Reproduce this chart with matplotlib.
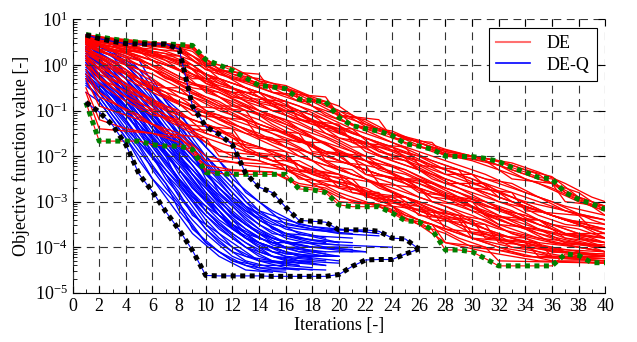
import numpy as np
import matplotlib
matplotlib.use('Agg')
import matplotlib.pyplot as plt
from matplotlib.lines import Line2D
from matplotlib.ticker import MultipleLocator, FixedLocator, NullFormatter

plt.rcParams['font.family'] = ['Liberation Serif', 'DejaVu Serif']
plt.rcParams['mathtext.fontset'] = 'stix'

# best-so-far objective per run, vertices as (iteration, log10 value)
de_runs = [
    [(1, .6), (3, .5), (6, .3), (8, .2), (10, -.2), (13, -.5), (15, -.9), (18, -1.2), (21, -1.6), (24, -1.9), (27, -2.3), (30, -2.6), (33, -2.9), (36, -3.3), (40, -3.6)],
    [(1, .55), (4, .2), (7, -.1), (9, -.4), (12, -.6), (14, -1.0), (17, -1.3), (20, -1.7), (22, -2.0), (25, -2.3), (28, -2.7), (31, -3.0), (34, -3.4), (37, -3.7), (40, -3.9)],
    [(1, .62), (5, .45), (8, .4), (10, 0), (12, -.3), (15, -.5), (17, -.8), (19, -.8), (21, -1.3), (24, -1.5), (27, -1.9), (30, -2.1), (33, -2.4), (35, -2.6), (38, -3.0), (40, -3.2)],
    [(1, .4), (3, 0), (5, -.4), (8, -.8), (11, -1.2), (13, -1.5), (16, -1.9), (19, -2.2), (22, -2.5), (25, -2.9), (28, -3.3), (31, -3.6), (34, -3.9), (37, -4.1), (40, -4.2)],
    [(1, .5), (2, .3), (5, .1), (7, -.3), (10, -.5), (12, -.9), (14, -1.1), (17, -1.5), (20, -1.8), (23, -2.1), (26, -2.5), (29, -2.8), (32, -3.2), (35, -3.5), (38, -3.8), (40, -4.0)],
    [(1, .3), (4, -.3), (6, -.6), (9, -1.0), (11, -1.1), (14, -1.6), (16, -1.7), (19, -2.1), (21, -2.4), (24, -2.7), (27, -3.0), (30, -3.3), (33, -3.7), (36, -3.9), (40, -4.1)],
    [(1, .65), (6, .5), (9, .4), (11, -.1), (14, -.4), (16, -.5), (18, -.9), (20, -1.2), (23, -1.5), (26, -1.8), (29, -2.0), (32, -2.2), (34, -2.5), (36, -2.7), (39, -3.1), (40, -3.2)],
    [(1, .2), (2, -.2), (5, -.6), (7, -1.0), (10, -1.3), (12, -1.6), (15, -1.9), (17, -2.2), (20, -2.6), (23, -2.9), (25, -3.3), (28, -3.6), (31, -3.9), (34, -4.2), (40, -4.3)],
    [(1, .58), (3, .35), (6, .1), (9, -.2), (11, -.5), (13, -.8), (16, -1.1), (18, -1.4), (21, -1.7), (24, -2.1), (26, -2.3), (29, -2.6), (32, -2.9), (35, -3.2), (38, -3.5), (40, -3.7)],
    [(1, 0), (3, -.5), (5, -.9), (8, -1.3), (10, -1.6), (13, -1.9), (16, -2.2), (18, -2.5), (21, -2.8), (24, -3.0), (27, -3.4), (30, -3.8), (33, -4.0), (37, -4.2), (40, -4.25)],
    [(1, .45), (4, .3), (7, 0), (10, -.3), (12, -.7), (15, -.9), (18, -1.3), (20, -1.4), (22, -1.9), (25, -2.2), (28, -2.5), (31, -2.8), (34, -3.1), (37, -3.4), (40, -3.6)],
    [(1, .6), (4, .4), (8, .3), (10, -.1), (13, -.4), (16, -.7), (19, -1.0), (22, -1.3), (25, -1.6), (28, -1.9), (30, -2.0), (33, -2.3), (36, -2.6), (38, -2.9), (40, -3.3)],
    [(1, .35), (3, .1), (6, -.2), (8, -.5), (11, -.9), (13, -1.2), (15, -1.4), (18, -1.8), (20, -2.1), (23, -2.4), (26, -2.6), (29, -3.0), (32, -3.3), (35, -3.7), (38, -3.9), (40, -4.0)],
    [(1, .5), (5, .3), (8, -.1), (10, -.6), (12, -.8), (15, -1.2), (17, -1.4), (20, -1.9), (22, -2.2), (25, -2.4), (28, -2.8), (31, -3.1), (34, -3.3), (37, -3.6), (40, -3.9)],
    [(1, -.3), (2, -.9), (5, -1.2), (8, -1.5), (10, -2.0), (13, -2.2), (16, -2.3), (18, -2.6), (20, -2.9), (23, -3.1), (26, -3.5), (28, -3.9), (31, -4.1), (35, -4.3), (40, -4.35)],
    [(1, .64), (7, .45), (9, .3), (11, -.2), (13, -.35), (15, -.6), (17, -.7), (19, -1.1), (21, -1.3), (24, -1.7), (27, -2.1), (30, -2.4), (33, -2.7), (36, -3.0), (39, -3.4), (40, -3.5)],
    [(1, .25), (3, -.1), (6, -.4), (9, -.7), (11, -1.0), (14, -1.3), (17, -1.6), (19, -2.0), (22, -2.3), (25, -2.6), (27, -2.9), (30, -3.2), (32, -3.5), (35, -3.8), (38, -4.0), (40, -4.1)],
    [(1, .55), (3, .45), (6, .25), (9, 0), (11, -.4), (14, -.7), (16, -1.0), (19, -1.3), (21, -1.5), (24, -1.8), (27, -2.2), (29, -2.4), (32, -2.7), (35, -3.0), (38, -3.3), (40, -3.4)],
    [(1, .1), (2, -.3), (4, -.7), (7, -1.1), (9, -1.4), (12, -1.7), (14, -2.0), (17, -2.3), (19, -2.5), (22, -2.7), (25, -3.1), (27, -3.3), (30, -3.6), (33, -3.8), (36, -4.0), (40, -4.2)],
    [(1, .48), (4, .25), (6, 0), (8, -.3), (11, -.6), (14, -1.0), (16, -1.3), (18, -1.6), (21, -2.0), (23, -2.2), (26, -2.7), (29, -3.0), (32, -3.4), (34, -3.6), (37, -3.9), (40, -4.0)],
    [(1, .6), (5, .48), (8, .35), (10, .05), (12, -.2), (14, -.3), (17, -.6), (20, -1.0), (22, -1.35), (24, -1.45), (26, -1.7), (28, -1.95), (31, -2.05), (33, -2.2), (35, -2.4), (37, -2.8), (40, -3.1)],
    [(1, .4), (3, .2), (5, -.2), (7, -.5), (10, -.8), (12, -1.1), (15, -1.5), (17, -1.8), (20, -2.3), (22, -2.5), (24, -2.8), (27, -3.1), (30, -3.5), (33, -3.8), (36, -4.1), (40, -4.2)],
    [(1, .3), (2, .1), (4, -.2), (7, -.7), (9, -.9), (12, -1.3), (14, -1.5), (16, -1.8), (19, -2.0), (21, -2.2), (24, -2.5), (27, -2.8), (30, -3.0), (32, -3.3), (35, -3.6), (38, -3.8), (40, -3.9)],
    [(1, .52), (4, .35), (7, .15), (9, -.1), (12, -.4), (14, -.6), (17, -1.0), (19, -1.2), (22, -1.6), (25, -2.0), (27, -2.2), (30, -2.5), (33, -2.9), (36, -3.3), (40, -3.7)],
    [(1, .58), (2, .5), (5, .35), (8, .1), (10, -.3), (13, -.6), (15, -.8), (18, -1.1), (20, -1.5), (23, -1.8), (26, -2.0), (28, -2.3), (31, -2.7), (34, -3.0), (37, -3.2), (40, -3.4)],
    [(1, .15), (3, -.3), (6, -.8), (8, -1.1), (11, -1.4), (13, -1.7), (16, -2.0), (18, -2.4), (21, -2.7), (24, -3.1), (26, -3.4), (29, -3.7), (32, -4.0), (36, -4.2), (40, -4.3)],
    [(1, .62), (3, .5), (7, .38), (9, .2), (11, -.3), (13, -.5), (16, -.8), (18, -1.0), (21, -1.4), (23, -1.6), (26, -1.9), (29, -2.2), (31, -2.4), (34, -2.8), (37, -3.1), (40, -3.3)],
    [(1, .45), (3, .2), (6, -.1), (9, -.6), (11, -.8), (14, -1.3), (16, -1.5), (19, -1.9), (22, -2.1), (25, -2.5), (27, -2.7), (30, -3.1), (33, -3.5), (36, -3.7), (40, -3.8)],
    [(1, .5), (3, .4), (5, .4), (7, .1), (9, -.3), (11, -.3), (13, -.7), (15, -1.0), (17, -1.0), (19, -1.5), (21, -1.8), (24, -1.8), (26, -2.3), (28, -2.6), (31, -2.6), (33, -3.0), (35, -3.3), (37, -3.5), (40, -3.6)],
    [(1, .6), (4, .5), (6, .2), (8, .2), (10, -.4), (12, -.6), (14, -.6), (16, -1.1), (19, -1.4), (21, -1.4), (23, -1.9), (26, -2.1), (28, -2.4), (30, -2.4), (32, -2.9), (35, -3.2), (38, -3.5), (40, -3.8)],
    [(1, .3), (2, .2), (4, -.1), (6, -.5), (8, -.5), (10, -1.0), (12, -1.2), (14, -1.4), (17, -1.7), (19, -1.7), (21, -2.2), (24, -2.5), (26, -2.5), (28, -2.9), (30, -3.2), (33, -3.4), (35, -3.4), (37, -3.8), (40, -4.0)],
    [(1, .65), (3, .55), (7, .42), (9, .38), (10, 0), (12, -.25), (14, -.4), (16, -.5), (18, -.8), (20, -1.1), (22, -1.2), (24, -1.5), (26, -1.7), (28, -1.9), (30, -2.0), (32, -2.1), (34, -2.3), (36, -2.45), (38, -2.9), (40, -3.1)],
    [(1, .4), (3, .3), (5, 0), (7, -.2), (9, -.6), (11, -.9), (13, -.9), (15, -1.3), (17, -1.6), (19, -1.9), (22, -2.0), (24, -2.4), (26, -2.8), (29, -2.9), (31, -3.3), (34, -3.6), (36, -3.9), (40, -4.0)],
    [(1, .55), (3, .3), (5, .3), (7, -.1), (9, -.4), (11, -.7), (13, -1.0), (16, -1.2), (18, -1.6), (20, -1.9), (22, -2.1), (25, -2.3), (27, -2.6), (29, -2.8), (31, -3.1), (34, -3.3), (36, -3.5), (38, -3.6), (40, -3.8)],
    [(1, .1), (3, -.2), (5, -.6), (7, -.9), (9, -1.2), (11, -1.4), (13, -1.8), (15, -2.1), (17, -2.1), (19, -2.4), (21, -2.6), (23, -2.9), (25, -2.9), (27, -3.2), (29, -3.5), (31, -3.7), (34, -4.0), (37, -4.1), (40, -4.2)],
    [(1, .62), (4, .48), (8, .4), (9, .35), (11, -.1), (13, -.2), (15, -.5), (17, -.6), (19, -.9), (21, -1.1), (23, -1.4), (25, -1.6), (27, -1.8), (30, -2.0), (32, -2.2), (34, -2.4), (36, -2.6), (38, -2.8), (40, -3.2)],
    [(1, .45), (2, .3), (4, .1), (6, -.1), (8, -.4), (10, -.7), (12, -1.0), (14, -1.2), (16, -1.5), (18, -1.8), (20, -2.0), (22, -2.4), (24, -2.6), (26, -2.9), (28, -3.1), (30, -3.4), (32, -3.6), (35, -3.8), (38, -3.9), (40, -4.1)],
    [(1, .58), (3, .45), (5, .35), (7, .25), (9, 0), (11, -.5), (13, -.7), (15, -1.0), (17, -1.2), (19, -1.3), (21, -1.6), (23, -1.9), (25, -2.1), (27, -2.4), (29, -2.7), (31, -2.9), (33, -3.1), (35, -3.4), (38, -3.7), (40, -3.8)],
    [(1, -.5), (2, -1.2), (4, -1.4), (6, -1.5), (8, -1.7), (10, -2.2), (12, -2.3), (15, -2.35), (17, -2.6), (19, -2.7), (21, -3.0), (23, -3.05), (25, -3.3), (27, -3.5), (29, -3.8), (31, -4.0), (34, -4.2), (40, -4.3)],
    [(1, .35), (3, .1), (5, -.3), (7, -.6), (9, -.8), (11, -1.2), (13, -1.4), (15, -1.7), (17, -1.9), (19, -2.3), (21, -2.5), (23, -2.6), (25, -3.0), (27, -3.2), (29, -3.3), (31, -3.6), (33, -3.9), (36, -4.1), (40, -4.15)],
    [(1, .55), (4, .42), (6, .3), (8, .05), (10, -.2), (12, -.5), (14, -.8), (16, -.9), (18, -1.2), (20, -1.6), (22, -1.7), (24, -2.0), (26, -2.2), (28, -2.5), (30, -2.7), (32, -3.0), (35, -3.2), (37, -3.4), (40, -3.5)],
    [(1, .2), (2, 0), (4, -.4), (6, -.8), (8, -1.0), (10, -1.5), (12, -1.7), (14, -1.8), (16, -2.1), (18, -2.3), (20, -2.4), (22, -2.8), (24, -3.0), (26, -3.2), (28, -3.4), (30, -3.7), (33, -3.9), (36, -4.2), (40, -4.25)],
    [(1, .66), (5, .5), (9, .43), (10, .05), (12, -.05), (14, -.35), (16, -.45), (18, -.7), (20, -.9), (22, -1.3), (24, -1.5), (26, -1.65), (28, -1.85), (30, -2.0), (33, -2.15), (35, -2.35), (37, -2.6), (39, -2.9), (40, -3.0)],
    [(1, .48), (3, .35), (5, .15), (7, -.2), (9, -.5), (11, -.6), (13, -.9), (15, -1.1), (17, -1.4), (19, -1.6), (21, -1.9), (23, -2.3), (25, -2.5), (27, -2.6), (29, -2.9), (31, -3.0), (33, -3.3), (35, -3.6), (37, -3.8), (40, -3.9)],
    [(1, .3), (3, 0), (5, -.3), (7, -.7), (9, -1.0), (11, -1.3), (13, -1.5), (15, -1.6), (17, -2.0), (19, -2.2), (21, -2.3), (23, -2.7), (25, -2.9), (27, -3.1), (29, -3.3), (31, -3.4), (33, -3.7), (35, -3.9), (38, -4.0), (40, -4.1)],
    [(1, .6), (3, .5), (5, .45), (7, .3), (9, .1), (11, -.15), (13, -.5), (15, -.7), (17, -.9), (19, -1.2), (21, -1.5), (23, -1.7), (25, -1.9), (27, -2.1), (29, -2.3), (31, -2.5), (33, -2.6), (35, -2.9), (37, -3.2), (40, -3.4)],
    [(1, 0), (2, -.4), (4, -.8), (6, -1.1), (8, -1.2), (10, -1.7), (12, -2.0), (14, -2.1), (16, -2.3), (18, -2.5), (20, -2.8), (22, -3.0), (24, -3.2), (26, -3.5), (28, -3.7), (30, -4.0), (33, -4.1), (36, -4.3), (40, -4.3)],
    [(1, .52), (3, .4), (5, .2), (7, 0), (9, -.25), (11, -.45), (13, -.6), (15, -.8), (17, -1.1), (19, -1.4), (21, -1.6), (23, -2.0), (25, -2.1), (27, -2.5), (29, -2.7), (31, -3.0), (33, -3.2), (35, -3.5), (37, -3.7), (40, -3.7)],
    [(1, -.1), (2, -.6), (4, -1.0), (6, -1.3), (8, -1.6), (10, -2.1), (16, -2.2), (17, -2.5), (21, -2.6), (22, -2.9), (25, -3.0), (26, -3.3), (29, -3.4), (30, -3.8), (34, -3.9), (35, -4.2), (40, -4.25)],
    [(1, .2), (3, -.4), (5, -.8), (7, -1.2), (9, -1.5), (11, -1.9), (15, -2.0), (16, -2.3), (19, -2.4), (20, -2.7), (23, -2.8), (24, -3.1), (27, -3.2), (28, -3.6), (31, -3.7), (33, -4.0), (40, -4.1)],
    [(1, .4), (2, .1), (4, -.5), (6, -.9), (8, -1.3), (12, -1.4), (13, -1.8), (16, -1.9), (17, -2.3), (20, -2.4), (21, -2.8), (24, -2.9), (26, -3.2), (29, -3.3), (30, -3.7), (34, -3.8), (36, -4.1), (40, -4.15)],
    [(1, -.2), (2, -.7), (5, -1.1), (7, -1.5), (10, -1.6), (11, -2.0), (14, -2.1), (16, -2.3), (18, -2.6), (21, -2.7), (23, -3.0), (26, -3.1), (27, -3.4), (31, -3.5), (32, -3.9), (36, -4.0), (38, -4.2), (40, -4.2)],
    [(1, .5), (3, .2), (5, -.1), (7, -.5), (9, -.9), (13, -1.0), (14, -1.4), (17, -1.5), (18, -1.9), (21, -2.0), (22, -2.4), (25, -2.5), (27, -2.9), (30, -3.0), (31, -3.3), (35, -3.4), (37, -3.7), (40, -3.8)],
    [(1, .6), (4, .5), (7, .4), (8, .35), (10, -.1), (14, -.2), (15, -.6), (19, -.7), (20, -1.1), (23, -1.2), (24, -1.6), (27, -1.7), (28, -2.0), (31, -2.1), (33, -2.5), (36, -2.6), (37, -3.0), (40, -3.1)],
    [(1, .3), (3, 0), (5, -.4), (7, -.6), (9, -1.1), (13, -1.2), (14, -1.6), (18, -1.7), (19, -2.1), (22, -2.2), (23, -2.6), (26, -2.7), (27, -3.0), (30, -3.1), (32, -3.5), (35, -3.6), (37, -3.9), (40, -3.95)],
    [(1, .55), (3, .4), (6, .2), (8, 0), (10, -.4), (12, -.7), (16, -.8), (17, -1.2), (20, -1.3), (21, -1.7), (25, -1.8), (26, -2.2), (29, -2.3), (30, -2.7), (33, -2.8), (34, -3.2), (38, -3.3), (39, -3.6), (40, -3.6)],
    [(1, -.6), (2, -1.4), (6, -1.5), (8, -1.6), (9, -1.8), (10, -2.3), (15, -2.35), (17, -2.65), (19, -2.75), (20, -3.0), (24, -3.1), (25, -3.38), (27, -3.5), (28, -3.9), (31, -4.0), (32, -4.3), (40, -4.35)],
    [(1, .1), (2, -.3), (5, -.7), (7, -1.0), (9, -1.4), (12, -1.5), (13, -1.9), (16, -2.0), (18, -2.4), (21, -2.5), (22, -2.8), (25, -2.9), (27, -3.3), (30, -3.4), (31, -3.8), (35, -3.9), (36, -4.2), (40, -4.2)],
]

deq_runs = [
    [(1, .5), (2, .2), (4, -.3), (5, -.8), (7, -1.5), (9, -2.4), (11, -3.0), (13, -3.5), (15, -3.9), (17, -4.1), (19, -4.2)],
    [(1, .2), (3, -.4), (5, -1.2), (7, -2.0), (8, -2.6), (10, -3.3), (12, -3.8), (14, -4.2), (16, -4.4), (18, -4.45)],
    [(1, -.2), (2, -.6), (4, -1.3), (6, -2.2), (8, -3.0), (9, -3.6), (11, -4.1), (13, -4.4), (15, -4.5), (16, -4.5)],
    [(1, .6), (3, .45), (5, .1), (6, -.4), (8, -1.2), (10, -2.0), (12, -2.6), (13, -3.0), (15, -3.4), (17, -3.7), (20, -3.9)],
    [(1, .3), (2, 0), (4, -.6), (6, -1.3), (7, -1.8), (9, -2.5), (11, -3.2), (12, -3.6), (14, -3.9), (16, -4.1), (18, -4.2)],
    [(1, .45), (3, .1), (5, -.5), (7, -1.2), (9, -1.9), (10, -2.5), (12, -3.1), (14, -3.6), (16, -3.9), (18, -4.0), (21, -4.1)],
    [(1, 0), (2, -.4), (4, -1.0), (5, -1.5), (7, -2.3), (9, -3.0), (10, -3.4), (12, -4.0), (14, -4.3), (17, -4.4)],
    [(1, .1), (3, -.3), (4, -.8), (6, -1.6), (8, -2.2), (10, -2.9), (11, -3.3), (13, -3.8), (15, -4.0), (17, -4.2), (20, -4.3)],
    [(1, -.4), (2, -.7), (4, -1.5), (5, -1.9), (7, -2.6), (8, -3.2), (10, -3.9), (12, -4.3), (14, -4.4), (16, -4.4)],
    [(1, .35), (2, .1), (3, -.2), (5, -.9), (6, -1.1), (8, -1.7), (10, -2.3), (11, -2.8), (13, -3.3), (15, -3.7), (17, -3.8), (19, -3.9)],
    [(1, .15), (2, -.2), (4, -.9), (5, -1.4), (6, -1.7), (8, -2.5), (9, -2.9), (11, -3.5), (13, -3.9), (14, -4.1), (16, -4.3), (18, -4.3)],
    [(1, -.1), (3, -.7), (4, -1.1), (6, -1.8), (7, -2.2), (9, -2.9), (10, -3.1), (12, -3.5), (14, -3.8), (16, -4.0), (19, -4.1)],
    [(1, .5), (2, .35), (4, 0), (5, -.3), (7, -.9), (8, -1.4), (10, -2.2), (12, -2.9), (14, -3.3), (15, -3.6), (17, -3.8), (20, -3.9)],
    [(1, .25), (3, -.2), (4, -.5), (6, -1.2), (8, -1.9), (9, -2.2), (11, -2.9), (12, -3.2), (14, -3.7), (16, -3.9), (18, -4.0), (21, -4.05)],
    [(1, -.3), (2, -.5), (3, -.9), (5, -1.6), (7, -2.4), (8, -2.7), (10, -3.5), (11, -3.8), (13, -4.2), (15, -4.3), (17, -4.35)],
    [(1, .4), (2, .2), (4, -.2), (6, -.9), (7, -1.3), (9, -2.0), (11, -2.7), (12, -3.0), (14, -3.5), (16, -3.8), (19, -4.0), (22, -4.1)],
    [(1, .05), (3, -.5), (5, -1.1), (6, -1.5), (8, -2.1), (10, -2.7), (12, -3.4), (13, -3.7), (15, -4.1), (17, -4.3), (19, -4.4)],
    [(1, .6), (2, .4), (4, .2), (5, -.1), (6, -.5), (8, -1.0), (9, -1.5), (11, -2.1), (12, -2.5), (14, -3.0), (16, -3.5), (18, -3.6), (20, -3.7), (23, -3.75)],
    [(1, -.2), (3, -.8), (5, -1.4), (6, -2.0), (8, -2.8), (9, -3.3), (11, -3.7), (12, -3.9), (14, -4.3), (16, -4.45), (18, -4.5)],
    [(1, .3), (2, -.1), (3, -.4), (5, -1.0), (7, -1.6), (8, -2.0), (10, -2.6), (12, -3.1), (13, -3.4), (15, -3.8), (18, -4.1), (20, -4.2)],
    [(1, .2), (3, -.1), (4, -.6), (6, -1.4), (7, -1.9), (9, -2.7), (10, -3.0), (12, -3.6), (14, -4.0), (15, -4.2), (17, -4.3), (20, -4.35)],
    [(1, -.05), (2, -.3), (4, -1.0), (5, -1.3), (7, -2.0), (9, -2.6), (11, -3.3), (13, -3.8), (14, -4.0), (16, -4.2), (18, -4.25)],
    [(1, .45), (3, .2), (5, -.2), (6, -.7), (8, -1.6), (10, -2.4), (11, -2.7), (13, -3.2), (15, -3.5), (17, -3.6), (21, -3.7)],
    [(1, -.6), (2, -.8), (4, -1.6), (5, -2.1), (7, -2.9), (8, -3.3), (9, -3.7), (11, -4.2), (13, -4.5), (15, -4.55)],
    [(1, .1), (2, -.1), (4, -.4), (5, -.7), (7, -1.4), (9, -2.1), (10, -2.4), (12, -3.0), (14, -3.4), (16, -3.7), (18, -3.85), (21, -3.9)],
    [(1, .35), (3, 0), (5, -.6), (7, -1.5), (8, -1.8), (10, -2.6), (12, -3.3), (14, -3.7), (16, -4.0), (19, -4.15)],
    [(1, -.3), (2, -.6), (3, -1.0), (4, -1.4), (6, -2.0), (8, -2.6), (9, -3.0), (11, -3.6), (13, -4.0), (15, -4.3), (17, -4.4)],
    [(1, .4), (2, .1), (3, -.3), (5, -1.0), (6, -1.4), (7, -1.7), (9, -2.4), (10, -2.8), (12, -3.4), (14, -3.8), (16, -4.0), (20, -4.0)],
    [(1, -.1), (2, -.4), (3, -.8), (4, -1.2), (6, -2.0), (7, -2.5), (9, -3.2), (10, -3.6), (12, -4.1), (14, -4.3), (18, -4.35)],
    [(1, .2), (2, -.1), (4, -.7), (5, -1.1), (6, -1.3), (8, -2.0), (10, -2.8), (11, -3.1), (13, -3.6), (15, -3.95), (17, -4.1), (22, -4.1)],
    [(1, .55), (3, .3), (4, 0), (6, -.6), (7, -1.0), (9, -1.7), (10, -2.1), (12, -2.8), (13, -3.1), (15, -3.4), (18, -3.6), (20, -3.65)],
    [(1, -.45), (2, -.7), (3, -1.1), (5, -1.8), (6, -2.3), (7, -2.7), (9, -3.4), (10, -3.7), (12, -4.2), (14, -4.45), (19, -4.5)],
    [(1, .3), (2, .1), (3, -.1), (5, -.8), (7, -1.6), (8, -2.0), (9, -2.3), (11, -3.0), (13, -3.5), (15, -3.8), (18, -4.0)],
    [(1, 0), (3, -.6), (4, -.9), (5, -1.2), (7, -1.9), (8, -2.4), (10, -3.2), (11, -3.5), (13, -4.0), (15, -4.2), (19, -4.3)],
    [(1, .45), (2, .25), (4, -.1), (5, -.4), (7, -1.1), (8, -1.5), (10, -2.0), (11, -2.4), (13, -3.0), (14, -3.3), (16, -3.6), (19, -3.8)],
    [(1, -.25), (2, -.55), (4, -1.2), (5, -1.7), (7, -2.4), (8, -2.9), (10, -3.6), (11, -3.9), (13, -4.3), (15, -4.45), (17, -4.5)],
    [(1, .15), (2, -.1), (4, -.6), (6, -1.2), (7, -1.5), (9, -2.2), (10, -2.6), (12, -3.3), (14, -3.7), (16, -3.9), (18, -4.0), (21, -4.0)],
    [(1, .5), (2, .4), (4, .1), (6, -.3), (7, -.8), (9, -1.4), (10, -1.8), (12, -2.4), (13, -2.8), (15, -3.2), (17, -3.5), (19, -3.6), (22, -3.65)],
    [(1, -.15), (3, -.6), (5, -1.3), (6, -1.8), (8, -2.5), (9, -2.8), (11, -3.4), (13, -3.8), (15, -4.0), (17, -4.2), (20, -4.2)],
    [(1, .35), (2, .15), (4, -.5), (5, -.9), (7, -1.7), (8, -2.1), (10, -2.9), (12, -3.5), (13, -3.8), (15, -4.1), (18, -4.2)],
    [(1, .05), (2, -.25), (3, -.6), (5, -1.3), (6, -1.6), (8, -2.3), (9, -2.7), (11, -3.2), (12, -3.5), (14, -3.9), (16, -4.15), (20, -4.2)],
    [(1, .25), (3, -.1), (4, -.3), (6, -1.0), (8, -1.8), (9, -2.1), (11, -2.6), (12, -2.9), (14, -3.4), (16, -3.7), (18, -3.75), (21, -3.8)],
    [(1, -.35), (2, -.8), (3, -1.2), (5, -2.0), (6, -2.5), (8, -3.1), (9, -3.5), (10, -3.9), (12, -4.3), (14, -4.5), (16, -4.55)],
    [(1, .6), (2, .45), (3, .3), (5, -.2), (6, -.6), (8, -1.3), (9, -1.7), (11, -2.3), (12, -2.6), (14, -3.2), (16, -3.4), (18, -3.55), (20, -3.6), (23, -3.7)],
    [(1, .1), (2, -.2), (4, -.8), (5, -1.1), (6, -1.6), (8, -2.3), (10, -3.0), (11, -3.3), (13, -3.7), (15, -3.9), (17, -3.9), (20, -3.95)],
    [(1, -.2), (2, -.45), (4, -.9), (5, -1.4), (7, -2.1), (8, -2.5), (10, -3.2), (12, -3.7), (13, -3.9), (15, -4.2), (17, -4.35), (19, -4.4)],
    [(1, .4), (3, .2), (4, -.2), (6, -.8), (7, -1.2), (9, -1.8), (11, -2.5), (13, -3.1), (14, -3.4), (16, -3.75), (18, -3.9), (20, -3.95), (24, -4.0)],
]

# worst / best run at each iteration (log10)
de_upper = [0.67, 0.62, 0.57, 0.53, 0.50, 0.48, 0.46, 0.45, 0.43, 0.12,
            0.00, -0.12, -0.28, -0.45, -0.48, -0.52, -0.75, -0.78, -0.80, -1.15,
            -1.33, -1.40, -1.45, -1.55, -1.73, -1.78, -1.85, -2.00, -2.01, -2.01,
            -2.05, -2.12, -2.25, -2.35, -2.47, -2.50, -2.80, -2.95, -3.05, -3.17]
de_lower = [-0.82, -1.67, -1.67, -1.67, -1.67, -1.75, -1.78, -1.78, -1.85, -2.36,
            -2.38, -2.40, -2.40, -2.40, -2.40, -2.40, -2.72, -2.74, -2.80, -3.07,
            -3.11, -3.11, -3.11, -3.25, -3.42, -3.44, -3.62, -4.06, -4.06, -4.10,
            -4.25, -4.41, -4.41, -4.41, -4.41, -4.41, -4.15, -4.18, -4.34, -4.34]
deq_upper = [0.66, 0.58, 0.52, 0.47, 0.46, 0.46, 0.46, 0.35, -0.90, -1.35,
             -1.52, -1.75, -2.38, -2.68, -2.80, -3.12, -3.41, -3.43, -3.45, -3.62,
             -3.62, -3.62, -3.65, -3.80, -3.82, -4.04]
deq_lower = [-0.82, -1.03, -1.32, -1.75, -2.40, -2.78, -3.22, -3.62, -4.07, -4.62,
             -4.63, -4.63, -4.63, -4.63, -4.64, -4.64, -4.64, -4.64, -4.64, -4.60,
             -4.42, -4.28, -4.27, -4.27, -4.15, -4.04]

y_ticks = [1e-5, 1e-4, 1e-3, 1e-2, 1e-1, 1e0, 1e1]

fig, ax = plt.subplots(figsize=(6.37, 3.42), dpi=100)
fig.subplots_adjust(left=0.114, right=0.950, bottom=0.144, top=0.943)

# DE-Q first, DE drawn over it
for run in deq_runs:
    xs, ys = zip(*run)
    ax.plot(xs, 10 ** np.array(ys), color='b', lw=0.95)
for run in de_runs:
    xs, ys = zip(*run)
    ax.plot(xs, 10 ** np.array(ys), color='r', lw=0.95)

dots = (0, (1.0, 0.9))
it_de = np.arange(1, len(de_upper) + 1)
it_deq = np.arange(1, len(deq_upper) + 1)
for env in (de_upper, de_lower):
    ax.plot(it_de, 10 ** np.array(env), color='r', lw=0.8, zorder=3)
    ax.plot(it_de, 10 ** np.array(env), color='#008000', lw=3.6, ls=dots,
            dash_capstyle='butt', zorder=3.1)
for env in (deq_upper, deq_lower):
    ax.plot(it_deq, 10 ** np.array(env), color='b', lw=0.8, zorder=3)
    ax.plot(it_deq, 10 ** np.array(env), color='k', lw=3.6, ls=dots,
            dash_capstyle='butt', zorder=3.1)

ax.set_yscale('log')
ax.set_xlim(0, 40)
ax.set_ylim(1e-5, 1e1)
ax.xaxis.set_major_locator(MultipleLocator(2))
ax.xaxis.set_minor_locator(MultipleLocator(1))
ax.yaxis.set_major_locator(FixedLocator(y_ticks))
minor_y = [m * 10.0 ** e for e in range(-5, 1) for m in range(2, 10)]
ax.yaxis.set_minor_locator(FixedLocator(minor_y))
ax.yaxis.set_minor_formatter(NullFormatter())
ax.tick_params(which='both', direction='in', labelsize=13)
ax.tick_params(which='major', length=5, top=True, right=True)
ax.tick_params(which='minor', length=3, top=False, right=False)
for side in ('top', 'right'):
    ax.spines[side].set_visible(False)

ax.set_axisbelow(False)
ax.grid(True, which='major', color='0.2', lw=0.8, ls=(0, (7, 5)))

ax.set_xlabel('Iterations [-]', fontsize=13, labelpad=2)
ax.set_ylabel('Objective function value [-]', fontsize=13, labelpad=3)

handles = [Line2D([], [], color='#ff7070', lw=1.5), Line2D([], [], color='b', lw=1.2)]
leg = ax.legend(handles, ['DE', 'DE-Q'], loc='upper right', bbox_to_anchor=(0.984, 0.969),
                borderaxespad=0, fancybox=False, framealpha=1, edgecolor='k',
                fontsize=13, handlelength=1.9, handletextpad=0.9, labelspacing=0.25)
leg.get_frame().set_linewidth(0.8)
leg.set_zorder(5)

fig.savefig('out.png', dpi=100)
